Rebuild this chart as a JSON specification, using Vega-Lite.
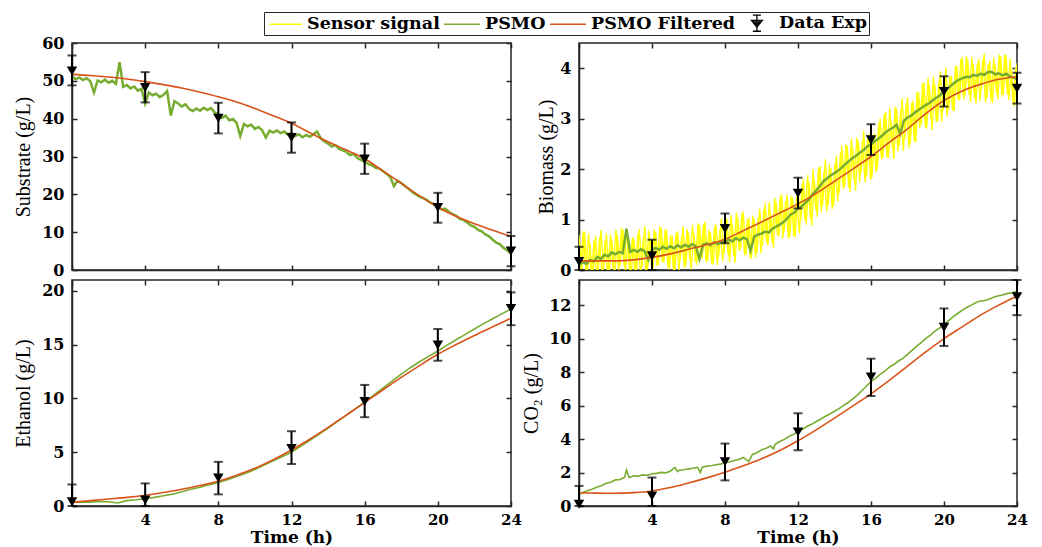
{
"$schema": "https://vega.github.io/schema/vega-lite/v6.json",
"background": "white",
"padding": {"left": 12, "top": 11, "right": 5, "bottom": 2},
"bounds": "flush",
"columns": 2,
"spacing": {"row": 10, "column": 68},
"datasets": {
"tl_s": [{"t":0,"v":51.2},{"t":0.2,"v":50.4},{"t":0.4,"v":50.9},{"t":0.6,"v":50.2},{"t":0.8,"v":50.7},{"t":1.0,"v":49.9},{"t":1.2,"v":46.9},{"t":1.4,"v":50.1},{"t":1.6,"v":49.6},{"t":1.8,"v":50.3},{"t":2.0,"v":49.5},{"t":2.2,"v":50.0},{"t":2.4,"v":49.2},{"t":2.6,"v":54.9},{"t":2.8,"v":48.4},{"t":3.0,"v":48.9},{"t":3.2,"v":48.0},{"t":3.4,"v":48.5},{"t":3.6,"v":47.4},{"t":3.8,"v":47.9},{"t":4.0,"v":44.0},{"t":4.2,"v":46.9},{"t":4.4,"v":46.2},{"t":4.6,"v":46.6},{"t":4.8,"v":45.7},{"t":5.0,"v":46.3},{"t":5.2,"v":47.3},{"t":5.4,"v":40.8},{"t":5.6,"v":44.6},{"t":5.8,"v":44.0},{"t":6.0,"v":43.2},{"t":6.2,"v":43.8},{"t":6.4,"v":42.6},{"t":6.6,"v":42.0},{"t":6.8,"v":42.7},{"t":7.0,"v":42.1},{"t":7.2,"v":42.9},{"t":7.4,"v":42.3},{"t":7.6,"v":42.8},{"t":7.8,"v":41.6},{"t":8.0,"v":41.2},{"t":8.2,"v":40.2},{"t":8.4,"v":40.8},{"t":8.6,"v":39.6},{"t":8.8,"v":39.9},{"t":9.0,"v":38.9},{"t":9.2,"v":35.4},{"t":9.4,"v":38.6},{"t":9.6,"v":38.0},{"t":9.8,"v":38.4},{"t":10.0,"v":37.3},{"t":10.2,"v":37.8},{"t":10.4,"v":36.9},{"t":10.6,"v":35.0},{"t":10.8,"v":36.8},{"t":11.0,"v":36.3},{"t":11.2,"v":36.9},{"t":11.4,"v":36.2},{"t":11.6,"v":36.6},{"t":11.8,"v":35.8},{"t":12.0,"v":36.2},{"t":12.2,"v":35.4},{"t":12.4,"v":35.9},{"t":12.6,"v":35.1},{"t":12.8,"v":35.7},{"t":13.0,"v":35.2},{"t":13.2,"v":35.9},{"t":13.4,"v":36.6},{"t":13.6,"v":34.8},{"t":13.8,"v":34.0},{"t":14.0,"v":33.4},{"t":14.2,"v":32.6},{"t":14.4,"v":33.0},{"t":14.6,"v":32.0},{"t":14.8,"v":31.6},{"t":15.0,"v":31.2},{"t":15.2,"v":30.4},{"t":15.4,"v":30.7},{"t":15.6,"v":29.6},{"t":15.8,"v":29.1},{"t":16.0,"v":28.6},{"t":16.2,"v":28.0},{"t":16.4,"v":27.7},{"t":16.6,"v":27.0},{"t":16.8,"v":26.8},{"t":17.0,"v":26.1},{"t":17.2,"v":25.4},{"t":17.4,"v":24.6},{"t":17.6,"v":22.2},{"t":17.8,"v":23.6},{"t":18.0,"v":23.0},{"t":18.2,"v":22.2},{"t":18.4,"v":21.5},{"t":18.6,"v":20.6},{"t":18.8,"v":20.0},{"t":19.0,"v":19.4},{"t":19.2,"v":19.0},{"t":19.4,"v":18.5},{"t":19.6,"v":17.8},{"t":19.8,"v":17.4},{"t":20.0,"v":16.9},{"t":20.2,"v":16.0},{"t":20.4,"v":16.2},{"t":20.6,"v":15.4},{"t":20.8,"v":14.8},{"t":21.0,"v":14.3},{"t":21.2,"v":13.5},{"t":21.4,"v":13.2},{"t":21.6,"v":12.6},{"t":21.8,"v":11.8},{"t":22.0,"v":11.4},{"t":22.2,"v":10.6},{"t":22.4,"v":10.2},{"t":22.6,"v":9.4},{"t":22.8,"v":8.9},{"t":23.0,"v":8.0},{"t":23.2,"v":7.2},{"t":23.4,"v":6.8},{"t":23.6,"v":5.8},{"t":23.8,"v":5.2},{"t":24.0,"v":4.3}],
"tl_f": [{"t":0,"v":51.7},{"t":1,"v":51.4},{"t":2,"v":51.0},{"t":3,"v":50.5},{"t":4,"v":49.8},{"t":5,"v":49.0},{"t":6,"v":48.1},{"t":7,"v":47.0},{"t":8,"v":45.8},{"t":9,"v":44.4},{"t":10,"v":42.7},{"t":11,"v":40.8},{"t":12,"v":38.8},{"t":13,"v":36.3},{"t":14,"v":33.9},{"t":15,"v":31.7},{"t":16,"v":29.4},{"t":17,"v":26.2},{"t":18,"v":22.9},{"t":19,"v":19.6},{"t":20,"v":16.6},{"t":21,"v":14.2},{"t":22,"v":12.2},{"t":23,"v":10.5},{"t":24,"v":8.9}],
"tl_e": [{"t":0,"v":52.6,"lo":48.8,"hi":56.7},{"t":4,"v":48.2,"lo":44.3,"hi":52.3},{"t":8,"v":40.1,"lo":36.1,"hi":44.2},{"t":12,"v":35.0,"lo":31.0,"hi":39.0},{"t":16,"v":29.3,"lo":25.4,"hi":33.4},{"t":20,"v":16.5,"lo":12.5,"hi":20.4},{"t":24,"v":5.0,"lo":1.0,"hi":9.0}],
"tr_y": [{"t":0,"v":0.70},{"t":0.15,"v":-0.05},{"t":0.3,"v":0.76},{"t":0.45,"v":-0.11},{"t":0.6,"v":0.52},{"t":0.75,"v":-0.20},{"t":0.9,"v":0.68},{"t":1.05,"v":-0.04},{"t":1.2,"v":0.79},{"t":1.35,"v":0.02},{"t":1.5,"v":0.73},{"t":1.65,"v":-0.14},{"t":1.8,"v":0.61},{"t":1.95,"v":-0.18},{"t":2.1,"v":0.70},{"t":2.25,"v":0.08},{"t":2.4,"v":0.81},{"t":2.55,"v":-0.06},{"t":2.7,"v":0.67},{"t":2.85,"v":-0.15},{"t":3.0,"v":0.63},{"t":3.15,"v":-0.07},{"t":3.3,"v":0.81},{"t":3.45,"v":0.06},{"t":3.6,"v":0.87},{"t":3.75,"v":0.00},{"t":3.9,"v":0.63},{"t":4.05,"v":-0.05},{"t":4.2,"v":0.75},{"t":4.35,"v":0.10},{"t":4.5,"v":0.85},{"t":4.65,"v":0.15},{"t":4.8,"v":0.79},{"t":4.95,"v":0.01},{"t":5.1,"v":0.69},{"t":5.25,"v":-0.03},{"t":5.4,"v":0.77},{"t":5.55,"v":0.21},{"t":5.7,"v":0.87},{"t":5.85,"v":0.09},{"t":6.0,"v":0.74},{"t":6.15,"v":0.01},{"t":6.3,"v":0.72},{"t":6.45,"v":0.10},{"t":6.6,"v":0.89},{"t":6.75,"v":0.23},{"t":6.9,"v":0.96},{"t":7.05,"v":0.18},{"t":7.2,"v":0.75},{"t":7.35,"v":0.11},{"t":7.5,"v":0.91},{"t":7.65,"v":0.26},{"t":7.8,"v":1.02},{"t":7.95,"v":0.33},{"t":8.1,"v":1.02},{"t":8.25,"v":0.16},{"t":8.4,"v":0.92},{"t":8.55,"v":0.14},{"t":8.7,"v":1.03},{"t":8.85,"v":0.42},{"t":9.0,"v":1.16},{"t":9.15,"v":0.30},{"t":9.3,"v":1.04},{"t":9.45,"v":0.23},{"t":9.6,"v":1.02},{"t":9.75,"v":0.33},{"t":9.9,"v":1.22},{"t":10.05,"v":0.49},{"t":10.2,"v":1.32},{"t":10.35,"v":0.48},{"t":10.5,"v":1.14},{"t":10.65,"v":0.44},{"t":10.8,"v":1.35},{"t":10.95,"v":0.66},{"t":11.1,"v":1.51},{"t":11.25,"v":0.77},{"t":11.4,"v":1.50},{"t":11.55,"v":0.66},{"t":11.7,"v":1.44},{"t":11.85,"v":0.67},{"t":12.0,"v":1.61},{"t":12.15,"v":0.97},{"t":12.3,"v":1.81},{"t":12.45,"v":0.90},{"t":12.6,"v":1.74},{"t":12.75,"v":0.88},{"t":12.9,"v":1.77},{"t":13.05,"v":1.05},{"t":13.2,"v":2.06},{"t":13.35,"v":1.28},{"t":13.5,"v":2.20},{"t":13.65,"v":1.28},{"t":13.8,"v":2.02},{"t":13.95,"v":1.26},{"t":14.1,"v":2.27},{"t":14.25,"v":1.51},{"t":14.4,"v":2.46},{"t":14.55,"v":1.65},{"t":14.7,"v":2.46},{"t":14.85,"v":1.54},{"t":15.0,"v":2.41},{"t":15.15,"v":1.57},{"t":15.3,"v":2.57},{"t":15.45,"v":1.92},{"t":15.6,"v":2.76},{"t":15.75,"v":1.84},{"t":15.9,"v":2.68},{"t":16.05,"v":1.82},{"t":16.2,"v":2.71},{"t":16.35,"v":1.99},{"t":16.5,"v":3.00},{"t":16.65,"v":2.22},{"t":16.8,"v":3.14},{"t":16.95,"v":2.22},{"t":17.1,"v":2.96},{"t":17.25,"v":2.20},{"t":17.4,"v":3.21},{"t":17.55,"v":2.46},{"t":17.7,"v":3.41},{"t":17.85,"v":2.60},{"t":18.0,"v":3.42},{"t":18.15,"v":2.50},{"t":18.3,"v":3.36},{"t":18.45,"v":2.52},{"t":18.6,"v":3.53},{"t":18.75,"v":2.88},{"t":18.9,"v":3.72},{"t":19.05,"v":2.80},{"t":19.2,"v":3.64},{"t":19.35,"v":2.77},{"t":19.5,"v":3.67},{"t":19.65,"v":2.94},{"t":19.8,"v":3.94},{"t":19.95,"v":3.16},{"t":20.1,"v":4.02},{"t":20.25,"v":3.18},{"t":20.4,"v":3.84},{"t":20.55,"v":3.15},{"t":20.7,"v":4.05},{"t":20.85,"v":3.36},{"t":21.0,"v":4.22},{"t":21.15,"v":3.46},{"t":21.3,"v":4.18},{"t":21.45,"v":3.32},{"t":21.6,"v":4.08},{"t":21.75,"v":3.30},{"t":21.9,"v":4.19},{"t":22.05,"v":3.57},{"t":22.2,"v":4.29},{"t":22.35,"v":3.41},{"t":22.5,"v":4.14},{"t":22.65,"v":3.31},{"t":22.8,"v":4.08},{"t":22.95,"v":3.38},{"t":23.1,"v":4.24},{"t":23.25,"v":3.48},{"t":23.4,"v":4.26},{"t":23.55,"v":3.37},{"t":23.7,"v":3.98},{"t":23.85,"v":3.24},{"t":24.0,"v":4.10}],
"tr_y2": [{"t":0.075,"v":-0.10},{"t":0.225,"v":0.76},{"t":0.375,"v":-0.01},{"t":0.525,"v":0.72},{"t":0.675,"v":-0.13},{"t":0.825,"v":0.58},{"t":0.975,"v":-0.19},{"t":1.125,"v":0.64},{"t":1.275,"v":-0.21},{"t":1.425,"v":0.58},{"t":1.575,"v":-0.15},{"t":1.725,"v":0.71},{"t":1.875,"v":0.02},{"t":2.025,"v":0.80},{"t":2.175,"v":-0.03},{"t":2.325,"v":0.83},{"t":2.475,"v":0.06},{"t":2.625,"v":0.79},{"t":2.775,"v":-0.06},{"t":2.925,"v":0.65},{"t":3.075,"v":-0.12},{"t":3.225,"v":0.71},{"t":3.375,"v":-0.14},{"t":3.525,"v":0.64},{"t":3.675,"v":-0.08},{"t":3.825,"v":0.78},{"t":3.975,"v":0.08},{"t":4.125,"v":0.81},{"t":4.275,"v":0.08},{"t":4.425,"v":0.85},{"t":4.575,"v":0.15},{"t":4.725,"v":0.81},{"t":4.875,"v":0.05},{"t":5.025,"v":0.69},{"t":5.175,"v":-0.01},{"t":5.325,"v":0.74},{"t":5.475,"v":-0.02},{"t":5.625,"v":0.68},{"t":5.775,"v":0.04},{"t":5.925,"v":0.81},{"t":6.075,"v":0.19},{"t":6.225,"v":0.89},{"t":6.375,"v":0.16},{"t":6.525,"v":0.93},{"t":6.675,"v":0.25},{"t":6.825,"v":0.91},{"t":6.975,"v":0.15},{"t":7.125,"v":0.79},{"t":7.275,"v":0.11},{"t":7.425,"v":0.86},{"t":7.575,"v":0.10},{"t":7.725,"v":0.81},{"t":7.875,"v":0.17},{"t":8.025,"v":0.98},{"t":8.175,"v":0.30},{"t":8.325,"v":1.09},{"t":8.475,"v":0.28},{"t":8.625,"v":1.14},{"t":8.775,"v":0.38},{"t":8.925,"v":1.12},{"t":9.075,"v":0.29},{"t":9.225,"v":1.00},{"t":9.375,"v":0.24},{"t":9.525,"v":1.08},{"t":9.675,"v":0.25},{"t":9.825,"v":1.04},{"t":9.975,"v":0.33},{"t":10.125,"v":1.21},{"t":10.275,"v":0.54},{"t":10.425,"v":1.34},{"t":10.575,"v":0.55},{"t":10.725,"v":1.43},{"t":10.875,"v":0.69},{"t":11.025,"v":1.45},{"t":11.175,"v":0.63},{"t":11.325,"v":1.36},{"t":11.475,"v":0.62},{"t":11.625,"v":1.47},{"t":11.775,"v":0.65},{"t":11.925,"v":1.46},{"t":12.075,"v":0.73},{"t":12.225,"v":1.71},{"t":12.375,"v":0.98},{"t":12.525,"v":1.88},{"t":12.675,"v":1.02},{"t":12.825,"v":2.00},{"t":12.975,"v":1.19},{"t":13.125,"v":2.03},{"t":13.275,"v":1.14},{"t":13.425,"v":1.96},{"t":13.575,"v":1.15},{"t":13.725,"v":2.10},{"t":13.875,"v":1.21},{"t":14.025,"v":2.11},{"t":14.175,"v":1.35},{"t":14.325,"v":2.33},{"t":14.475,"v":1.60},{"t":14.625,"v":2.49},{"t":14.775,"v":1.63},{"t":14.925,"v":2.60},{"t":15.075,"v":1.79},{"t":15.225,"v":2.63},{"t":15.375,"v":1.74},{"t":15.525,"v":2.55},{"t":15.675,"v":1.74},{"t":15.825,"v":2.69},{"t":15.975,"v":1.79},{"t":16.125,"v":2.69},{"t":16.275,"v":1.94},{"t":16.425,"v":2.92},{"t":16.575,"v":2.19},{"t":16.725,"v":3.09},{"t":16.875,"v":2.23},{"t":17.025,"v":3.21},{"t":17.175,"v":2.40},{"t":17.325,"v":3.24},{"t":17.475,"v":2.35},{"t":17.625,"v":3.17},{"t":17.775,"v":2.36},{"t":17.925,"v":3.31},{"t":18.075,"v":2.42},{"t":18.225,"v":3.31},{"t":18.375,"v":2.56},{"t":18.525,"v":3.53},{"t":18.675,"v":2.81},{"t":18.825,"v":3.70},{"t":18.975,"v":2.83},{"t":19.125,"v":3.81},{"t":19.275,"v":3.00},{"t":19.425,"v":3.84},{"t":19.575,"v":2.94},{"t":19.725,"v":3.75},{"t":19.875,"v":2.94},{"t":20.025,"v":3.86},{"t":20.175,"v":3.04},{"t":20.325,"v":3.85},{"t":20.475,"v":3.16},{"t":20.625,"v":4.04},{"t":20.775,"v":3.37},{"t":20.925,"v":4.18},{"t":21.075,"v":3.38},{"t":21.225,"v":4.24},{"t":21.375,"v":3.48},{"t":21.525,"v":4.22},{"t":21.675,"v":3.39},{"t":21.825,"v":4.10},{"t":21.975,"v":3.34},{"t":22.125,"v":4.17},{"t":22.275,"v":3.32},{"t":22.425,"v":4.09},{"t":22.575,"v":3.36},{"t":22.725,"v":4.21},{"t":22.875,"v":3.50},{"t":23.025,"v":4.27},{"t":23.175,"v":3.43},{"t":23.325,"v":4.27},{"t":23.475,"v":3.48},{"t":23.625,"v":4.19},{"t":23.775,"v":3.32},{"t":23.925,"v":4.01}],
"tr_s": [{"t":0,"v":0.10},{"t":0.2,"v":0.16},{"t":0.4,"v":0.12},{"t":0.6,"v":0.20},{"t":0.8,"v":0.17},{"t":1.0,"v":0.26},{"t":1.2,"v":0.22},{"t":1.4,"v":0.30},{"t":1.6,"v":0.27},{"t":1.8,"v":0.35},{"t":2.0,"v":0.31},{"t":2.2,"v":0.36},{"t":2.4,"v":0.33},{"t":2.6,"v":0.82},{"t":2.8,"v":0.36},{"t":3.0,"v":0.40},{"t":3.2,"v":0.36},{"t":3.4,"v":0.41},{"t":3.6,"v":0.37},{"t":3.8,"v":0.20},{"t":4.0,"v":0.40},{"t":4.2,"v":0.44},{"t":4.4,"v":0.40},{"t":4.6,"v":0.46},{"t":4.8,"v":0.42},{"t":5.0,"v":0.47},{"t":5.2,"v":0.43},{"t":5.4,"v":0.49},{"t":5.6,"v":0.45},{"t":5.8,"v":0.50},{"t":6.0,"v":0.46},{"t":6.2,"v":0.51},{"t":6.4,"v":0.47},{"t":6.6,"v":0.22},{"t":6.8,"v":0.50},{"t":7.0,"v":0.53},{"t":7.2,"v":0.49},{"t":7.4,"v":0.55},{"t":7.6,"v":0.51},{"t":7.8,"v":0.57},{"t":8.0,"v":0.55},{"t":8.2,"v":0.60},{"t":8.4,"v":0.57},{"t":8.6,"v":0.63},{"t":8.8,"v":0.59},{"t":9.0,"v":0.64},{"t":9.2,"v":0.61},{"t":9.4,"v":0.38},{"t":9.6,"v":0.66},{"t":9.8,"v":0.70},{"t":10.0,"v":0.72},{"t":10.2,"v":0.76},{"t":10.4,"v":0.74},{"t":10.6,"v":0.82},{"t":10.8,"v":0.86},{"t":11.0,"v":0.90},{"t":11.2,"v":0.95},{"t":11.4,"v":1.02},{"t":11.6,"v":1.10},{"t":11.8,"v":1.14},{"t":12.0,"v":1.22},{"t":12.2,"v":1.26},{"t":12.4,"v":1.33},{"t":12.6,"v":1.40},{"t":12.8,"v":1.50},{"t":13.0,"v":1.58},{"t":13.2,"v":1.66},{"t":13.4,"v":1.76},{"t":13.6,"v":1.82},{"t":13.8,"v":1.88},{"t":14.0,"v":1.92},{"t":14.2,"v":1.97},{"t":14.4,"v":2.03},{"t":14.6,"v":2.10},{"t":14.8,"v":2.16},{"t":15.0,"v":2.22},{"t":15.2,"v":2.27},{"t":15.4,"v":2.33},{"t":15.6,"v":2.38},{"t":15.8,"v":2.45},{"t":16.0,"v":2.49},{"t":16.2,"v":2.55},{"t":16.4,"v":2.60},{"t":16.6,"v":2.66},{"t":16.8,"v":2.73},{"t":17.0,"v":2.78},{"t":17.2,"v":2.82},{"t":17.4,"v":2.88},{"t":17.6,"v":2.70},{"t":17.8,"v":2.96},{"t":18.0,"v":3.02},{"t":18.2,"v":3.06},{"t":18.4,"v":3.12},{"t":18.6,"v":3.17},{"t":18.8,"v":3.22},{"t":19.0,"v":3.27},{"t":19.2,"v":3.31},{"t":19.4,"v":3.37},{"t":19.6,"v":3.42},{"t":19.8,"v":3.47},{"t":20.0,"v":3.55},{"t":20.2,"v":3.60},{"t":20.4,"v":3.66},{"t":20.6,"v":3.72},{"t":20.8,"v":3.77},{"t":21.0,"v":3.80},{"t":21.2,"v":3.83},{"t":21.4,"v":3.82},{"t":21.6,"v":3.87},{"t":21.8,"v":3.85},{"t":22.0,"v":3.89},{"t":22.2,"v":3.87},{"t":22.4,"v":3.92},{"t":22.6,"v":3.93},{"t":22.8,"v":3.88},{"t":23.0,"v":3.90},{"t":23.2,"v":3.86},{"t":23.4,"v":3.89},{"t":23.6,"v":3.84},{"t":23.8,"v":3.82},{"t":24.0,"v":3.78}],
"tr_f": [{"t":0,"v":0.18},{"t":1,"v":0.18},{"t":2,"v":0.18},{"t":3,"v":0.20},{"t":4,"v":0.25},{"t":5,"v":0.32},{"t":6,"v":0.41},{"t":7,"v":0.50},{"t":8,"v":0.61},{"t":9,"v":0.78},{"t":10,"v":0.95},{"t":11,"v":1.13},{"t":12,"v":1.31},{"t":13,"v":1.52},{"t":14,"v":1.76},{"t":15,"v":2.00},{"t":16,"v":2.25},{"t":17,"v":2.53},{"t":18,"v":2.80},{"t":19,"v":3.10},{"t":20,"v":3.36},{"t":21,"v":3.55},{"t":22,"v":3.68},{"t":23,"v":3.78},{"t":24,"v":3.83}],
"tr_e": [{"t":0,"v":0.17,"lo":0,"hi":0.46},{"t":4,"v":0.28,"lo":0,"hi":0.60},{"t":8,"v":0.82,"lo":0.53,"hi":1.12},{"t":12,"v":1.52,"lo":1.22,"hi":1.83},{"t":16,"v":2.58,"lo":2.28,"hi":2.89},{"t":20,"v":3.54,"lo":3.24,"hi":3.84},{"t":24,"v":3.60,"lo":3.30,"hi":3.91}],
"bl_s": [{"t":0,"v":0.35},{"t":0.5,"v":0.38},{"t":1,"v":0.36},{"t":1.5,"v":0.42},{"t":2,"v":0.40},{"t":2.5,"v":0.28},{"t":3,"v":0.50},{"t":3.5,"v":0.58},{"t":4,"v":0.68},{"t":4.5,"v":0.80},{"t":5,"v":0.95},{"t":5.5,"v":1.10},{"t":6,"v":1.32},{"t":6.5,"v":1.55},{"t":7,"v":1.75},{"t":7.5,"v":1.98},{"t":8,"v":2.18},{"t":8.5,"v":2.45},{"t":9,"v":2.75},{"t":9.5,"v":3.05},{"t":10,"v":3.40},{"t":10.5,"v":3.80},{"t":11,"v":4.20},{"t":11.5,"v":4.60},{"t":12,"v":5.00},{"t":12.5,"v":5.55},{"t":13,"v":6.10},{"t":13.5,"v":6.65},{"t":14,"v":7.25},{"t":14.5,"v":7.85},{"t":15,"v":8.45},{"t":15.5,"v":9.05},{"t":16,"v":9.65},{"t":16.5,"v":10.30},{"t":17,"v":10.95},{"t":17.5,"v":11.60},{"t":18,"v":12.25},{"t":18.5,"v":12.85},{"t":19,"v":13.40},{"t":19.5,"v":13.90},{"t":20,"v":14.40},{"t":20.5,"v":14.95},{"t":21,"v":15.45},{"t":21.5,"v":15.95},{"t":22,"v":16.45},{"t":22.5,"v":16.95},{"t":23,"v":17.40},{"t":23.5,"v":17.85},{"t":24,"v":18.30}],
"bl_f": [{"t":0,"v":0.35},{"t":1,"v":0.5},{"t":2,"v":0.65},{"t":3,"v":0.8},{"t":4,"v":1.0},{"t":5,"v":1.25},{"t":6,"v":1.55},{"t":7,"v":1.9},{"t":8,"v":2.3},{"t":9,"v":2.85},{"t":10,"v":3.5},{"t":11,"v":4.3},{"t":12,"v":5.2},{"t":13,"v":6.2},{"t":14,"v":7.3},{"t":15,"v":8.45},{"t":16,"v":9.6},{"t":17,"v":10.8},{"t":18,"v":11.95},{"t":19,"v":13.05},{"t":20,"v":14.1},{"t":21,"v":15.0},{"t":22,"v":15.85},{"t":23,"v":16.65},{"t":24,"v":17.45}],
"bl_e": [{"t":0,"v":0.4,"lo":0,"hi":2.0},{"t":4,"v":0.56,"lo":0,"hi":2.1},{"t":8,"v":2.6,"lo":1.08,"hi":4.1},{"t":12,"v":5.35,"lo":3.9,"hi":6.95},{"t":16,"v":9.7,"lo":8.25,"hi":11.25},{"t":20,"v":14.95,"lo":13.5,"hi":16.45},{"t":24,"v":18.35,"lo":16.8,"hi":19.85}],
"br_s": [{"t":0,"v":0.70},{"t":0.25,"v":0.82},{"t":0.5,"v":0.93},{"t":0.75,"v":1.02},{"t":1.0,"v":1.14},{"t":1.25,"v":1.22},{"t":1.5,"v":1.36},{"t":1.75,"v":1.42},{"t":2.0,"v":1.56},{"t":2.25,"v":1.58},{"t":2.5,"v":1.72},{"t":2.6,"v":2.15},{"t":2.75,"v":1.70},{"t":3.0,"v":1.80},{"t":3.25,"v":1.78},{"t":3.5,"v":1.86},{"t":3.75,"v":1.84},{"t":4.0,"v":1.93},{"t":4.25,"v":1.95},{"t":4.5,"v":2.01},{"t":4.75,"v":1.98},{"t":5.0,"v":2.08},{"t":5.25,"v":2.30},{"t":5.4,"v":2.05},{"t":5.5,"v":2.14},{"t":5.75,"v":2.17},{"t":6.0,"v":2.22},{"t":6.25,"v":2.25},{"t":6.5,"v":2.31},{"t":6.65,"v":2.00},{"t":6.75,"v":2.32},{"t":7.0,"v":2.38},{"t":7.25,"v":2.40},{"t":7.5,"v":2.46},{"t":7.75,"v":2.50},{"t":8.0,"v":2.58},{"t":8.25,"v":2.63},{"t":8.5,"v":2.72},{"t":8.75,"v":2.78},{"t":9.0,"v":2.90},{"t":9.3,"v":2.65},{"t":9.5,"v":3.08},{"t":9.75,"v":3.18},{"t":10.0,"v":3.35},{"t":10.25,"v":3.45},{"t":10.5,"v":3.58},{"t":10.65,"v":3.40},{"t":10.75,"v":3.68},{"t":11.0,"v":3.85},{"t":11.25,"v":3.98},{"t":11.5,"v":4.15},{"t":11.75,"v":4.28},{"t":12.0,"v":4.45},{"t":12.25,"v":4.58},{"t":12.5,"v":4.76},{"t":12.75,"v":4.88},{"t":13.0,"v":5.05},{"t":13.25,"v":5.20},{"t":13.5,"v":5.36},{"t":13.75,"v":5.50},{"t":14.0,"v":5.66},{"t":14.25,"v":5.82},{"t":14.5,"v":6.01},{"t":14.75,"v":6.18},{"t":15.0,"v":6.40},{"t":15.25,"v":6.62},{"t":15.5,"v":6.90},{"t":15.75,"v":7.15},{"t":16.0,"v":7.45},{"t":16.25,"v":7.62},{"t":16.5,"v":7.86},{"t":16.75,"v":8.05},{"t":17.0,"v":8.30},{"t":17.25,"v":8.45},{"t":17.5,"v":8.66},{"t":17.75,"v":8.82},{"t":18.0,"v":9.06},{"t":18.25,"v":9.30},{"t":18.5,"v":9.55},{"t":18.75,"v":9.76},{"t":19.0,"v":10.00},{"t":19.25,"v":10.20},{"t":19.5,"v":10.45},{"t":19.75,"v":10.62},{"t":20.0,"v":10.86},{"t":20.25,"v":11.08},{"t":20.5,"v":11.30},{"t":20.75,"v":11.50},{"t":21.0,"v":11.70},{"t":21.25,"v":11.86},{"t":21.5,"v":12.00},{"t":21.75,"v":12.15},{"t":22.0,"v":12.25},{"t":22.25,"v":12.28},{"t":22.5,"v":12.36},{"t":22.75,"v":12.48},{"t":23.0,"v":12.56},{"t":23.25,"v":12.62},{"t":23.5,"v":12.70},{"t":23.75,"v":12.74},{"t":24.0,"v":12.82}],
"br_f": [{"t":0,"v":0.78},{"t":1,"v":0.77},{"t":2,"v":0.76},{"t":3,"v":0.8},{"t":4,"v":0.9},{"t":5,"v":1.1},{"t":6,"v":1.37},{"t":7,"v":1.68},{"t":8,"v":2.02},{"t":9,"v":2.4},{"t":10,"v":2.82},{"t":11,"v":3.32},{"t":12,"v":3.9},{"t":13,"v":4.55},{"t":14,"v":5.25},{"t":15,"v":5.97},{"t":16,"v":6.7},{"t":17,"v":7.5},{"t":18,"v":8.35},{"t":19,"v":9.2},{"t":20,"v":10.0},{"t":21,"v":10.7},{"t":22,"v":11.4},{"t":23,"v":12.0},{"t":24,"v":12.55}],
"br_e": [{"t":0,"v":0.1,"lo":0,"hi":1.2},{"t":4,"v":0.6,"lo":0,"hi":1.7},{"t":8,"v":2.64,"lo":1.53,"hi":3.73},{"t":12,"v":4.42,"lo":3.33,"hi":5.54},{"t":16,"v":7.7,"lo":6.57,"hi":8.8},{"t":20,"v":10.67,"lo":9.56,"hi":11.8},{"t":24,"v":12.5,"lo":11.4,"hi":13.5}]
},
"concat": [
{
"width": 439, "height": 227,
"layer": [
{"data": {"values": [{"s":"Sensor signal"},{"s":"PSMO"},{"s":"PSMO Filtered"},{"s":"Data Exp"}]},
 "mark": {"type": "point", "opacity": 0, "filled": false},
 "encoding": {
   "color": {"field": "s", "type": "nominal",
     "scale": {"domain": ["Sensor signal","PSMO","PSMO Filtered","Data Exp"], "range": ["#FFFF00","#77AC30","#D95319","#000000"]},
     "legend": {"orient": "none", "legendX": 192, "legendY": -31, "direction": "horizontal", "columns": 4, "title": null,
       "labelFont": "DejaVu Serif", "labelFontWeight": "bold", "labelFontSize": 17.5, "labelColor": "#000000",
       "symbolSize": 324, "labelOffset": 22, "columnPadding": 1, "padding": 1, "rowPadding": 0,
       "strokeColor": "#262626", "fillColor": "white", "symbolOpacity": 1, "symbolStrokeWidth": 1.3}},
   "shape": {"field": "s", "type": "nominal",
     "scale": {"domain": ["Sensor signal","PSMO","PSMO Filtered","Data Exp"], "range": ["M-0.6,0L3,0","M-1,0L3,0","M-1,0L3,0","M0.65,-0.9L1.55,-0.9M1.1,-0.9L1.1,0.9M0.65,0.9L1.55,0.9M0.5,-0.3L1.7,-0.3L1.1,0.45ZM0.8,-0.15L1.4,-0.15L1.1,0.2Z"]}}
 }},
{"data": {"name": "tl_s"}, "mark": {"type": "line", "color": "#77AC30", "strokeWidth": 2.5},
 "encoding": {"x": {"field": "t", "type": "quantitative", "scale": {"domain": [0,24], "nice": false}, "axis": null},
              "y": {"field": "v", "type": "quantitative", "scale": {"domain": [0,60], "nice": false}, "axis": null}}},
{"data": {"name": "tl_f"}, "mark": {"type": "line", "color": "#D95319", "strokeWidth": 1.6, "interpolate": "monotone"},
 "encoding": {"x": {"field": "t", "type": "quantitative", "scale": {"domain": [0,24], "nice": false}, "axis": {"values": [0,4,8,12,16,20,24], "labels": false, "title": null}},
              "y": {"field": "v", "type": "quantitative", "scale": {"domain": [0,60], "nice": false}, "axis": {"values": [0,10,20,30,40,50,60], "title": "Substrate (g/L)", "titlePadding": 8}}}},
{"data": {"name": "tl_e"}, "mark": {"type": "errorbar", "ticks": {"size": 9, "thickness": 2}, "thickness": 2, "color": "#000000"},
 "encoding": {"x": {"field": "t", "type": "quantitative", "axis": null},
              "y": {"field": "lo", "type": "quantitative", "axis": null}, "y2": {"field": "hi"}}},
{"data": {"name": "tl_e"}, "mark": {"type": "point", "shape": "triangle-down", "filled": true, "color": "#000000", "size": 110, "opacity": 1},
 "encoding": {"x": {"field": "t", "type": "quantitative", "axis": {"orient": "top", "values": [0,4,8,12,16,20,24], "labels": false, "domain": false, "title": null}},
              "y": {"field": "v", "type": "quantitative", "axis": {"orient": "right", "values": [0,10,20,30,40,50,60], "labels": false, "domain": false, "title": null}}}}
],
"resolve": {"axis": {"x": "independent", "y": "independent"}}
},
{
"width": 438, "height": 227,
"layer": [
{"data": {"name": "tr_y"}, "mark": {"type": "line", "color": "#FFFF00", "strokeWidth": 1.3, "clip": true},
 "encoding": {"x": {"field": "t", "type": "quantitative", "scale": {"domain": [0,24], "nice": false}, "axis": null},
              "y": {"field": "v", "type": "quantitative", "scale": {"domain": [0,4.5], "nice": false}, "axis": null}}},
{"data": {"name": "tr_y2"}, "mark": {"type": "line", "color": "#FFFF00", "strokeWidth": 1.3, "clip": true},
 "encoding": {"x": {"field": "t", "type": "quantitative", "axis": null},
              "y": {"field": "v", "type": "quantitative", "axis": null}}},
{"data": {"name": "tr_s"}, "mark": {"type": "line", "color": "#77AC30", "strokeWidth": 2.5},
 "encoding": {"x": {"field": "t", "type": "quantitative", "axis": null},
              "y": {"field": "v", "type": "quantitative", "axis": null}}},
{"data": {"name": "tr_f"}, "mark": {"type": "line", "color": "#D95319", "strokeWidth": 1.6, "interpolate": "monotone"},
 "encoding": {"x": {"field": "t", "type": "quantitative", "axis": {"values": [0,4,8,12,16,20,24], "labels": false, "title": null}},
              "y": {"field": "v", "type": "quantitative", "axis": {"values": [0,1,2,3,4], "title": "Biomass (g/L)", "titlePadding": 3}}}},
{"data": {"name": "tr_e"}, "mark": {"type": "errorbar", "ticks": {"size": 9, "thickness": 2}, "thickness": 2, "color": "#000000"},
 "encoding": {"x": {"field": "t", "type": "quantitative", "axis": null},
              "y": {"field": "lo", "type": "quantitative", "axis": null}, "y2": {"field": "hi"}}},
{"data": {"name": "tr_e"}, "mark": {"type": "point", "shape": "triangle-down", "filled": true, "color": "#000000", "size": 110, "opacity": 1},
 "encoding": {"x": {"field": "t", "type": "quantitative", "axis": {"orient": "top", "values": [0,4,8,12,16,20,24], "labels": false, "domain": false, "title": null}},
              "y": {"field": "v", "type": "quantitative", "axis": {"orient": "right", "values": [0,1,2,3,4], "labels": false, "domain": false, "title": null}}}}
],
"resolve": {"axis": {"x": "independent", "y": "independent"}}
},
{
"width": 439, "height": 226,
"layer": [
{"data": {"name": "bl_s"}, "mark": {"type": "line", "color": "#77AC30", "strokeWidth": 1.6},
 "encoding": {"x": {"field": "t", "type": "quantitative", "scale": {"domain": [0,24], "nice": false}, "axis": null},
              "y": {"field": "v", "type": "quantitative", "scale": {"domain": [0,21], "nice": false}, "axis": null}}},
{"data": {"name": "bl_f"}, "mark": {"type": "line", "color": "#D95319", "strokeWidth": 1.6, "interpolate": "monotone"},
 "encoding": {"x": {"field": "t", "type": "quantitative", "axis": {"values": [0,4,8,12,16,20,24], "labelExpr": "datum.value === 0 ? '' : datum.label", "title": "Time (h)", "titleFont": "DejaVu Serif", "titleFontWeight": "bold", "titleFontSize": 17, "titlePadding": 2}},
              "y": {"field": "v", "type": "quantitative", "axis": {"values": [0,5,10,15,20], "title": "Ethanol (g/L)", "titlePadding": 8}}}},
{"data": {"name": "bl_e"}, "mark": {"type": "errorbar", "ticks": {"size": 9, "thickness": 2}, "thickness": 2, "color": "#000000"},
 "encoding": {"x": {"field": "t", "type": "quantitative", "axis": null},
              "y": {"field": "lo", "type": "quantitative", "axis": null}, "y2": {"field": "hi"}}},
{"data": {"name": "bl_e"}, "mark": {"type": "point", "shape": "triangle-down", "filled": true, "color": "#000000", "size": 110, "opacity": 1},
 "encoding": {"x": {"field": "t", "type": "quantitative", "axis": {"orient": "top", "values": [0,4,8,12,16,20,24], "labels": false, "domain": false, "title": null}},
              "y": {"field": "v", "type": "quantitative", "axis": {"orient": "right", "values": [0,5,10,15,20], "labels": false, "domain": false, "title": null}}}}
],
"resolve": {"axis": {"x": "independent", "y": "independent"}}
},
{
"width": 438, "height": 226,
"layer": [
{"data": {"name": "br_s"}, "mark": {"type": "line", "color": "#77AC30", "strokeWidth": 1.6},
 "encoding": {"x": {"field": "t", "type": "quantitative", "scale": {"domain": [0,24], "nice": false}, "axis": null},
              "y": {"field": "v", "type": "quantitative", "scale": {"domain": [0,13.5], "nice": false}, "axis": null}}},
{"data": {"name": "br_f"}, "mark": {"type": "line", "color": "#D95319", "strokeWidth": 1.6, "interpolate": "monotone"},
 "encoding": {"x": {"field": "t", "type": "quantitative", "axis": {"values": [0,4,8,12,16,20,24], "labelExpr": "datum.value === 0 ? '' : datum.label", "title": "Time (h)", "titleFont": "DejaVu Serif", "titleFontWeight": "bold", "titleFontSize": 17, "titlePadding": 2}},
              "y": {"field": "v", "type": "quantitative", "axis": {"values": [0,2,4,6,8,10,12], "title": "CO₂ (g/L)", "titlePadding": 7}}}},
{"data": {"name": "br_e"}, "mark": {"type": "errorbar", "ticks": {"size": 9, "thickness": 2}, "thickness": 2, "color": "#000000"},
 "encoding": {"x": {"field": "t", "type": "quantitative", "axis": null},
              "y": {"field": "lo", "type": "quantitative", "axis": null}, "y2": {"field": "hi"}}},
{"data": {"name": "br_e"}, "mark": {"type": "point", "shape": "triangle-down", "filled": true, "color": "#000000", "size": 110, "opacity": 1},
 "encoding": {"x": {"field": "t", "type": "quantitative", "axis": {"orient": "top", "values": [0,4,8,12,16,20,24], "labels": false, "domain": false, "title": null}},
              "y": {"field": "v", "type": "quantitative", "axis": {"orient": "right", "values": [0,2,4,6,8,10,12], "labels": false, "domain": false, "title": null}}}}
],
"resolve": {"axis": {"x": "independent", "y": "independent"}}
}
],
"config": {
"view": {"stroke": "#262626", "strokeWidth": 1.5},
"axis": {"grid": false, "domainColor": "#262626", "domainWidth": 1.5, "tickColor": "#262626", "tickWidth": 1.5, "tickSize": -5,
  "labelFont": "DejaVu Serif", "labelFontWeight": "bold", "labelFontSize": 16, "labelColor": "#000000", "labelPadding": 12, "labelFlush": false,
  "titleFont": "Liberation Serif", "titleFontWeight": "normal", "titleFontSize": 20, "titleColor": "#000000"},
"axisX": {"labelFontSize": 15, "labelPadding": 11},
"axisY": {"labelPadding": 13}
}
}
